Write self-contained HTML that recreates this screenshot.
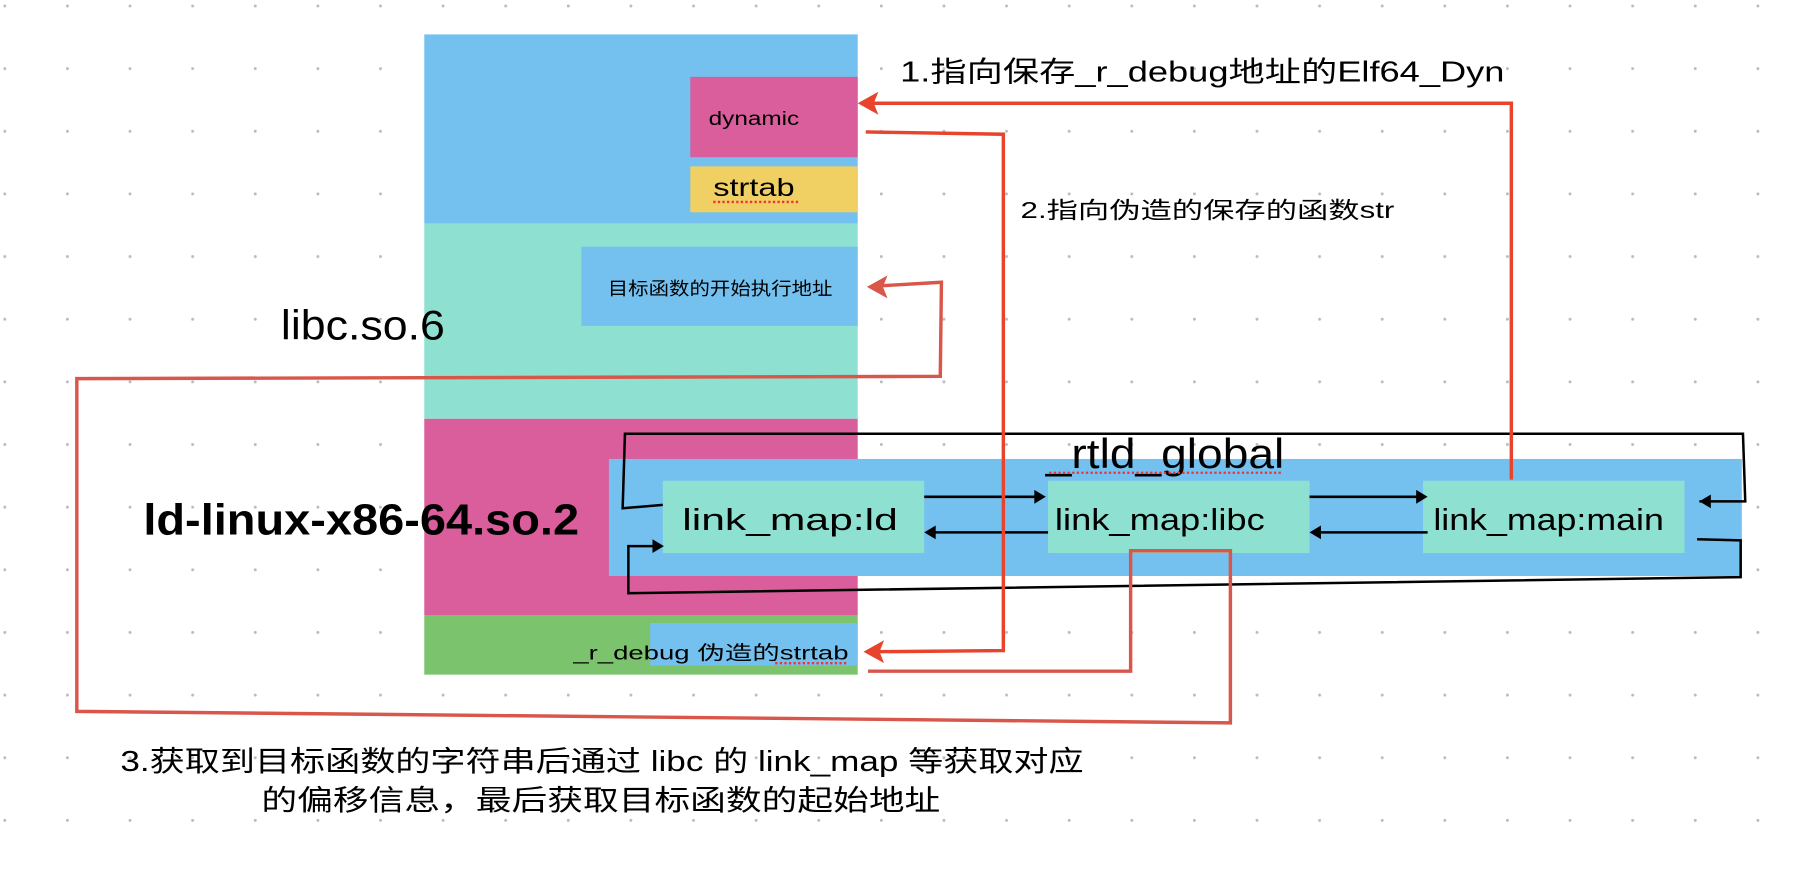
<!DOCTYPE html>
<html><head><meta charset="utf-8"><style>
html,body{margin:0;padding:0;background:#fff;}
svg{display:block}
text{font-family:"Liberation Sans","Noto Sans CJK SC",sans-serif;fill:#000;}
</style></head><body>
<svg width="1798" height="872" viewBox="0 0 1568 760" preserveAspectRatio="none" xmlns="http://www.w3.org/2000/svg">
<defs>
<pattern id="dots" x="3" y="4" width="54.6" height="54.6" patternUnits="userSpaceOnUse">
<circle cx="1.2" cy="1.2" r="1.3" fill="#bbb"/></pattern>
</defs>
<rect width="1568" height="760" fill="url(#dots)"/>
<rect x="370" y="30" width="378" height="165" fill="#74c1f0"/>
<rect x="602" y="67" width="146" height="70" fill="#d95e9b"/>
<text x="618" y="109" font-size="17" textLength="79" lengthAdjust="spacingAndGlyphs">dynamic</text>
<rect x="602" y="145" width="146" height="40" fill="#f0cf63"/>
<text x="622" y="171" font-size="22" textLength="71" lengthAdjust="spacingAndGlyphs">strtab</text>
<line x1="622" y1="176" x2="696" y2="176" stroke="#e33" stroke-width="2" stroke-dasharray="2,2"/>
<rect x="370" y="195" width="378" height="170" fill="#8ee1d1"/>
<rect x="507" y="215" width="241" height="69" fill="#74c1f0"/>
<text x="530" y="257" font-size="16" textLength="196" lengthAdjust="spacingAndGlyphs">目标函数的开始执行地址</text>
<text x="245" y="296" font-size="36" textLength="143" lengthAdjust="spacingAndGlyphs">libc.so.6</text>
<rect x="370" y="365" width="378" height="171" fill="#d95e9b"/>
<rect x="370" y="536" width="378" height="52" fill="#7cc36e"/>
<rect x="567" y="543" width="181" height="37" fill="#74c1f0"/>
<text x="500" y="575" font-size="17" textLength="240" lengthAdjust="spacingAndGlyphs">_r_debug 伪造的strtab</text>
<line x1="676" y1="578" x2="740" y2="578" stroke="#e33" stroke-width="2" stroke-dasharray="2,2"/>
<text x="125" y="466" font-size="38" font-weight="bold" textLength="380" lengthAdjust="spacingAndGlyphs">ld-linux-x86-64.so.2</text>
<rect x="531" y="400" width="988" height="102" fill="#74c1f0"/>
<rect x="578" y="419" width="228" height="63" fill="#8ee1d1"/>
<rect x="914" y="419" width="228" height="63" fill="#8ee1d1"/>
<rect x="1241" y="419" width="228" height="63" fill="#8ee1d1"/>
<text x="595" y="462" font-size="27" textLength="188" lengthAdjust="spacingAndGlyphs">link_map:ld</text>
<text x="920" y="462" font-size="27" textLength="183" lengthAdjust="spacingAndGlyphs">link_map:libc</text>
<text x="1250" y="462" font-size="27" textLength="201" lengthAdjust="spacingAndGlyphs">link_map:main</text>
<text x="912" y="408" font-size="36" textLength="208" lengthAdjust="spacingAndGlyphs">_rtld_global</text>
<line x1="915" y1="412" x2="1118" y2="412" stroke="#e33" stroke-width="2" stroke-dasharray="2,2"/>
<g stroke="#000" stroke-width="2.2" fill="none">
<polyline points="1482,437 1522,437 1520,378 545,378 543,443 578,440"/>
<polyline points="1480,470 1518,471 1518,503 548,517 548,476 572,476"/>
<line x1="806" y1="433" x2="905" y2="433"/>
<line x1="914" y1="464" x2="813" y2="464"/>
<line x1="1142" y1="433" x2="1238" y2="433"/>
<line x1="1245" y1="464" x2="1149" y2="464"/>
</g>
<g fill="#000">
<polygon points="912,433 902,427 902,439"/>
<polygon points="806,464 816,458 816,470"/>
<polygon points="1245,433 1235,427 1235,439"/>
<polygon points="1142,464 1152,458 1152,470"/>
<polygon points="1482,437 1492,431 1492,443"/>
<polygon points="579,476 569,470 569,482"/>
</g>
<g fill="none" stroke-width="3">
<polyline points="1318,418 1318,90 760,90" stroke="#e8432d"/>
<polyline points="755,115 875,117 875,567 765,568" stroke="#e8432d"/>
<polyline points="757,585 986,585 986,480 1073,480 1073,630 67,620 67,330 820,328 821,246 770,249" stroke="#d9574a"/>
</g>
<polygon points="748,90 766,80 762,90 766,100" fill="#e8432d"/>
<polygon points="753,568 771,558 767,568 771,578" fill="#e8432d"/>
<polygon points="756,250 774,240 770,250 774,260" fill="#d9574a"/>
<text x="785" y="71" font-size="25" textLength="527" lengthAdjust="spacingAndGlyphs">1.指向保存_r_debug地址的Elf64_Dyn</text>
<text x="890" y="190" font-size="20" textLength="326" lengthAdjust="spacingAndGlyphs">2.指向伪造的保存的函数str</text>
<text x="105" y="672" font-size="25" textLength="840" lengthAdjust="spacingAndGlyphs">3.获取到目标函数的字符串后通过 libc 的 link_map 等获取对应</text>
<text x="228" y="706" font-size="25" textLength="592" lengthAdjust="spacingAndGlyphs">的偏移信息，最后获取目标函数的起始地址</text>
</svg>
</body></html>
